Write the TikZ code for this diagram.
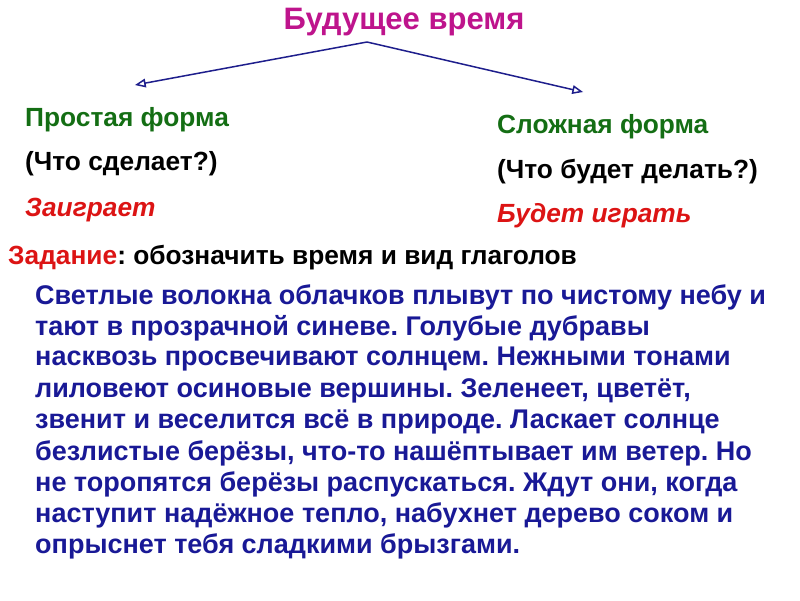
\documentclass[tikz,border=0pt]{standalone}
\usepackage{fontspec}
\setmainfont{Liberation Sans}
\usetikzlibrary{arrows}
\definecolor{titlecol}{RGB}{190,20,140}
\definecolor{linecol}{RGB}{30,30,140}
\definecolor{formcol}{RGB}{20,110,20}
\definecolor{textcol}{RGB}{25,25,150}
\definecolor{taskcol}{RGB}{220,20,20}
\frenchspacing
\begin{document}
\begin{tikzpicture}[x=1pt,y=-1pt,>=open triangle 45]
  \tikzstyle{txt} = [anchor=west, inner sep=0pt, font=\fontsize{26.3}{30}\selectfont\bfseries]
  \tikzstyle{para} = [txt, text=textcol, font=\fontsize{27}{30}\selectfont\bfseries]
  \useasboundingbox (0,0) rectangle (800,600);
  \node [inner sep=0pt, text=titlecol, font=\fontsize{31}{35}\selectfont\bfseries] (title) at (404,22) {Будущее время};
  \coordinate (split) at (367,42);
  \coordinate (leftend) at (135,85);
  \coordinate (rightend) at (583,92);
  \node [txt, text=formcol] (simple) at (25,120) {Простая форма};
  \node [txt] (simpleq) at (25,164) {(Что сделает?)};
  \node [txt, text=taskcol, font=\fontsize{26.3}{30}\selectfont\bfseries\itshape] (simplex) at (25,210) {Заиграет};
  \node [txt, text=formcol] (compound) at (497,127) {Сложная форма};
  \node [txt] (compoundq) at (497,172) {(Что будет делать?)};
  \node [txt, text=taskcol, font=\fontsize{26.3}{30}\selectfont\bfseries\itshape] (compoundx) at (497,216) {Будет играть};
  \node [txt] (task) at (8,258) {\textcolor{taskcol}{Задание}: обозначить время и вид глаголов};
  \foreach \ln [count=\i] in {Светлые волокна облачков плывут по чистому небу и,
    тают в прозрачной синеве. Голубые дубравы,
    насквозь просвечивают солнцем. Нежными тонами,
    лиловеют осиновые вершины. Зеленеет{,} цветёт{,},
    звенит и веселится всё в природе. Ласкает солнце,
    безлистые берёзы{,} что-то нашёптывает им ветер. Но,
    не торопятся берёзы распускаться. Ждут они{,} когда,
    наступит надёжное тепло{,} набухнет дерево соком и,
    опрыснет тебя сладкими брызгами.}
    \node [para] (line\i) at (35,{297+(\i-1)*31.2}) {\ln};

  \draw [->, linecol, line width=1.5pt] (split) -- (leftend);
  \draw [->, linecol, line width=1.5pt] (split) -- (rightend);
\end{tikzpicture}
\end{document}
